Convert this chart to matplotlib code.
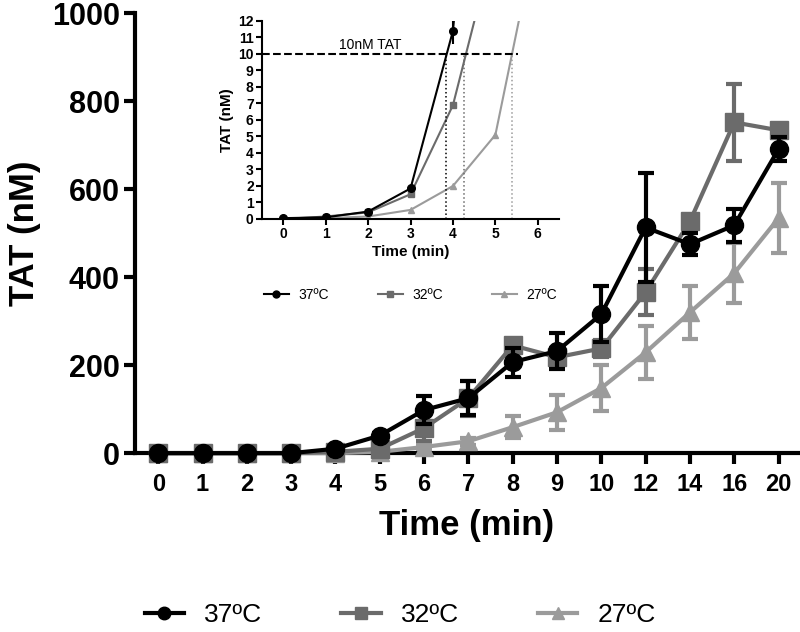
import numpy as np
import matplotlib
matplotlib.use('Agg')
import matplotlib.pyplot as plt
from matplotlib.lines import Line2D

plt.rcParams['font.family'] = ['Liberation Sans', 'DejaVu Sans']

# main panel data (categorical time axis)
times = ['0', '1', '2', '3', '4', '5', '6', '7', '8', '9', '10', '12', '14', '16', '20']
tat_37 = [0, 0, 0, 0, 10, 40, 98, 125, 207, 232, 316, 513, 475, 518, 691]
err_37 = [0, 0, 0, 0, 4, 6, 32, 38, 33, 40, 64, 123, 25, 37, 27]
tat_32 = [0, 0, 0, 0, 3, 10, 57, 125, 245, 218, 238, 366, 527, 752, 734]
err_32 = [0, 0, 0, 0, 2, 5, 30, 40, 15, 20, 20, 52, 10, 88, 10]
tat_27 = [0, 0, 0, 0, 0, 3, 14, 27, 59, 93, 148, 229, 320, 409, 534]
err_27 = [0, 0, 0, 0, 0, 2, 5, 8, 25, 40, 52, 60, 60, 68, 80]

# inset data (first minutes)
inset_t = [0, 1, 2, 3, 4, 5, 6]
inset_37 = [0.05, 0.1, 0.45, 1.85, 11.4, 40]
inset_32 = [0.0, 0.15, 0.4, 1.5, 6.9, 17]
inset_27 = [0.0, 0.05, 0.15, 0.55, 2.0, 5.1, 17.6]
cross_t = [3.83, 4.27, 5.4]  # time to reach 10 nM

labels = ['37ºC', '32ºC', '27ºC']
colors = ['#000000', '#6b6b6b', '#9b9b9b']
markers = ['o', 's', '^']

fig = plt.figure(figsize=(8, 6.32), dpi=100)
ax = fig.add_axes([0.169, 0.283, 0.828, 0.696])

x = np.arange(len(times))
series = [(tat_27, err_27, 2), (tat_32, err_32, 1), (tat_37, err_37, 0)]
for vals, errs, i in series:
    ax.errorbar(x, vals, yerr=errs, color=colors[i], marker=markers[i], ms=13,
                lw=3, elinewidth=3, capsize=6, capthick=3, clip_on=False,
                zorder=3 + (2 - i))

ax.set_xlim(-0.52, 14.43)
ax.set_ylim(0, 1000)
ax.set_xticks(x)
ax.set_xticklabels(times, fontsize=17, fontweight='bold')
ax.set_yticks(range(0, 1001, 200))
ax.set_yticklabels([str(v) for v in range(0, 1001, 200)], fontsize=22, fontweight='bold')
for s in ['top', 'right']:
    ax.spines[s].set_visible(False)
for s in ['left', 'bottom']:
    ax.spines[s].set_linewidth(3)
ax.tick_params(axis='both', length=8, width=3)
ax.tick_params(axis='x', pad=6)
ax.tick_params(axis='y', pad=3)
ax.set_xlabel('Time (min)', fontsize=25, fontweight='bold', labelpad=10)
ax.set_ylabel('TAT (nM)', fontsize=25, fontweight='bold', labelpad=8)

handles = [Line2D([], [], color=colors[i], marker=markers[i], ms=9, lw=3) for i in range(3)]
fig.legend(handles, labels, loc='center', bbox_to_anchor=(0.5, 0.027), ncol=3,
           frameon=False, fontsize=19, handlelength=1.5, handletextpad=0.75,
           columnspacing=3.0)

# inset
ax2 = fig.add_axes([0.3275, 0.6535, 0.3713, 0.3133])
ax2.patch.set_alpha(0)
ax2.plot(inset_t[:len(inset_27)], inset_27, color=colors[2], marker='^', ms=5, lw=1.5)
ax2.plot(inset_t[:len(inset_32)], inset_32, color=colors[1], marker='s', ms=5, lw=1.5)
ax2.errorbar(inset_t[:len(inset_37)], inset_37, yerr=[0, 0, 0, 0, 0.8, 0],
             color=colors[0], marker='o', ms=5.5, lw=1.5, elinewidth=1.5)
ax2.plot([-0.5, 5.53], [10, 10], color='black', ls='--', lw=1.5)
for t, c in zip(cross_t, colors):
    ax2.plot([t, t], [0, 10], color=c, ls=':', lw=1.1)
ax2.text(1.32, 10.15, '10nM TAT', fontsize=10, ha='left', va='bottom')
ax2.set_xlim(-0.5, 6.5)
ax2.set_ylim(0, 12)
ax2.set_xticks(range(0, 7))
ax2.set_yticks(range(0, 13))
for lab in ax2.get_xticklabels() + ax2.get_yticklabels():
    lab.set_fontweight('bold')
    lab.set_fontsize(10)
for s in ['top', 'right']:
    ax2.spines[s].set_visible(False)
for s in ['left', 'bottom']:
    ax2.spines[s].set_linewidth(1.5)
ax2.tick_params(axis='both', length=4, width=1.5, pad=2)
ax2.set_xlabel('Time (min)', fontsize=11, fontweight='bold', labelpad=3)
ax2.set_ylabel('TAT (nM)', fontsize=11, fontweight='bold', labelpad=3)

h2 = [Line2D([], [], color=colors[i], marker=markers[i], ms=5, lw=1.5) for i in range(3)]
ax2.legend(h2, labels, loc='center', bbox_to_anchor=(0.5, -0.384), ncol=3,
           frameon=False, fontsize=10, handlelength=1.8, handletextpad=0.7,
           columnspacing=3.5)

fig.savefig('out.png', dpi=100)
